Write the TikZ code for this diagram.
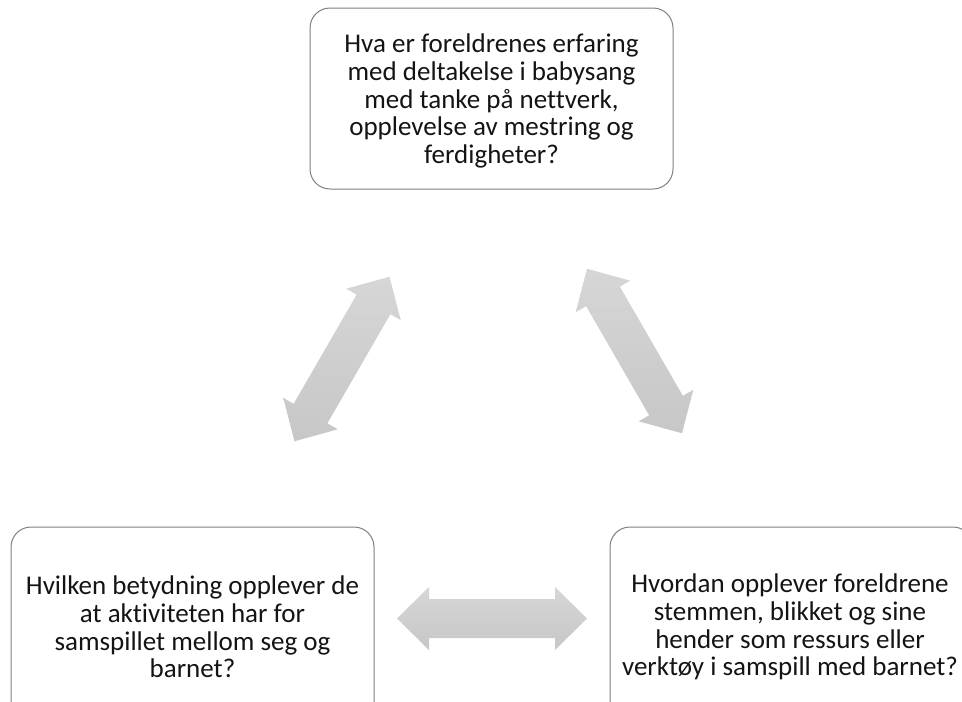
\documentclass[tikz,border=0pt]{standalone}
\usepackage{fontspec}
\setmainfont{Carlito}[Ligatures=NoCommon]
\usetikzlibrary{calc}
\definecolor{boxline}{RGB}{128,128,128}
\definecolor{arrtop}{RGB}{214,214,214}
\definecolor{arrbot}{RGB}{199,199,199}
\definecolor{txt}{RGB}{20,20,20}
\begin{document}
\begin{tikzpicture}[x=1pt,y=-1pt,
  qbox/.style={draw=boxline, line width=1pt, rounded corners=20pt, fill=white,
    shape=rectangle, minimum width=363pt},
  qtext/.style={align=center, inner sep=0pt, text=txt,
    font=\fontsize{27}{27.8}\selectfont},
  blockarrow/.style={top color=arrtop, bottom color=arrbot, draw=none}]
\useasboundingbox (0,0) rectangle (962,702);
\clip (0,0) rectangle (962,702);

\foreach \cx/\cy/\ang/\nm in {342/359/60/aL, 634.5/351/-60/aR, 492/618.5/0/aB} {
  \begin{scope}[shift={(\cx,\cy)}, rotate=\ang]
    \coordinate (\nm-1) at (-95,0);
    \coordinate (\nm-2) at (-63,31.5);
    \coordinate (\nm-3) at (-63,19.5);
    \coordinate (\nm-4) at (63,19.5);
    \coordinate (\nm-5) at (63,31.5);
    \coordinate (\nm-6) at (95,0);
    \coordinate (\nm-7) at (63,-31.5);
    \coordinate (\nm-8) at (63,-19.5);
    \coordinate (\nm-9) at (-63,-19.5);
    \coordinate (\nm-10) at (-63,-31.5);
  \end{scope}
  \shade[blockarrow] (\nm-1) -- (\nm-2) -- (\nm-3) -- (\nm-4) -- (\nm-5) -- (\nm-6)
    -- (\nm-7) -- (\nm-8) -- (\nm-9) -- (\nm-10) -- cycle;
}

\node[qbox, minimum height=181pt] (top) at (491.5,98.5) {};
\node[qtext] (toptext) at (491.5,101)
  {Hva er foreldrenes erfaring\\ med deltakelse i babysang\\ med tanke på nettverk,\\ opplevelse av mestring og\\ ferdigheter?};
\node[qbox, minimum height=196pt] (left) at (192.5,625) {};
\node[qtext] (lefttext) at (192.5,627)
  {Hvilken betydning opplever de\\ at aktiviteten har for\\ samspillet mellom seg og\\ barnet?};
\node[qbox, minimum height=196pt] (right) at (791.5,625) {};
\node[qtext] (righttext) at (790,627)
  {Hvordan opplever foreldrene\\ stemmen, blikket og sine\\ hender som ressurs eller\\ verktøy i samspill med barnet?};
\end{tikzpicture}
\end{document}
